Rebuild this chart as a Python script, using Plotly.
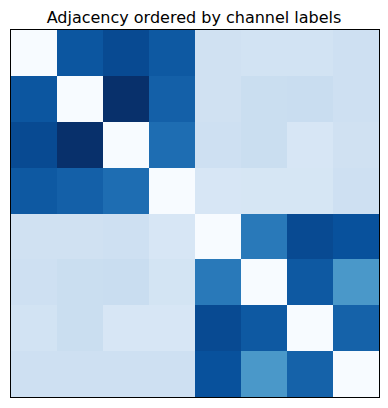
import plotly.graph_objects as go

labels = ["c0", "c1", "c2", "c3", "c4", "c5", "c6", "c7"]
row0 = [0.00, 0.855, 0.90, 0.844, 0.20, 0.19, 0.19, 0.21]
row1 = [0.855, 0.00, 1.00, 0.816, 0.20, 0.227, 0.234, 0.21]
row2 = [0.90, 1.00, 0.00, 0.766, 0.21, 0.227, 0.164, 0.20]
row3 = [0.844, 0.816, 0.766, 0.00, 0.164, 0.166, 0.165, 0.21]
row4 = [0.20, 0.20, 0.21, 0.164, 0.00, 0.72, 0.90, 0.875]
row5 = [0.21, 0.227, 0.234, 0.18, 0.72, 0.00, 0.844, 0.60]
row6 = [0.19, 0.227, 0.164, 0.164, 0.90, 0.844, 0.00, 0.81]
row7 = [0.21, 0.21, 0.21, 0.21, 0.875, 0.60, 0.81, 0.00]
matrix = [row0, row1, row2, row3, row4, row5, row6, row7]

blues = [
    [0.0, "#f7fbff"], [0.125, "#deebf7"], [0.25, "#c6dbef"], [0.375, "#9ecae1"],
    [0.5, "#6baed6"], [0.625, "#4292c6"], [0.75, "#2171b5"], [0.875, "#08519c"],
    [1.0, "#08306b"],
]

fig = go.Figure(go.Heatmap(
    z=matrix, x=labels, y=labels, colorscale=blues, zmin=0, zmax=1,
    showscale=False, xgap=0, ygap=0,
))
fig.update_layout(
    width=388, height=408,
    margin=dict(l=11, r=9, t=30, b=11),
    paper_bgcolor="white", plot_bgcolor="white",
    title=dict(text="Adjacency ordered by channel labels", x=0.5, xanchor="center",
               y=1 - 17/408, yanchor="middle",
               font=dict(family="DejaVu Sans", size=16, color="black")),
    font=dict(family="DejaVu Sans"),
)
fig.update_xaxes(showticklabels=False, ticks="", showgrid=False, zeroline=False,
                 showline=True, linecolor="black", linewidth=1.2, mirror=True)
fig.update_yaxes(showticklabels=False, ticks="", showgrid=False, zeroline=False,
                 showline=True, linecolor="black", linewidth=1.2, mirror=True,
                 autorange="reversed")
fig.write_html("out.html")
